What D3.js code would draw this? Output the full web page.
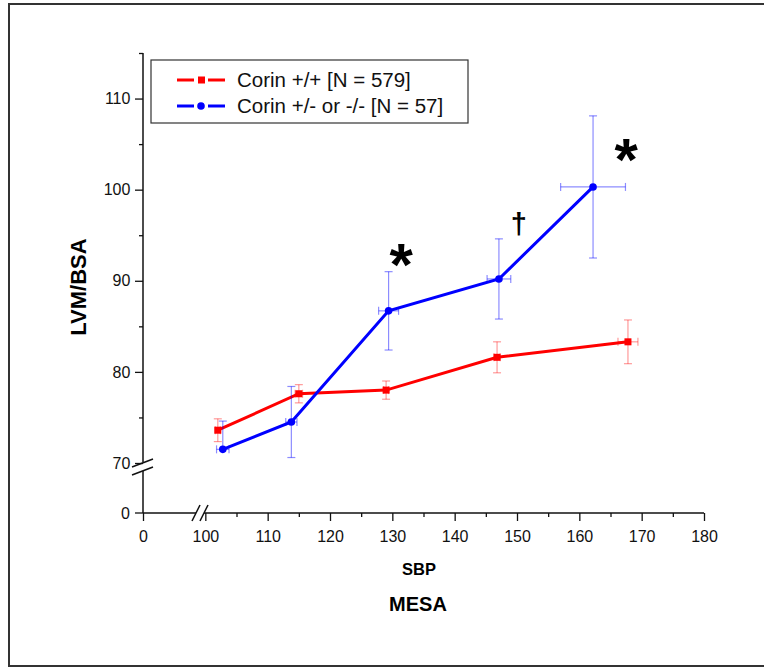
<!DOCTYPE html>
<html>
<head>
<meta charset="utf-8">
<script src="https://cdn.jsdelivr.net/npm/d3@7"></script>
<style>
  body { margin: 0; background: #fff; }
  svg { font-family: "Liberation Sans", Arial, sans-serif; }
</style>
</head>
<body>
<svg width="764" height="669"></svg>
<script>
// data (SBP vs LVM/BSA, MESA)
var sbpRed  = [102.0, 115.0, 129.0, 146.8, 167.8];
var lvmRed  = [73.6, 77.6, 78.0, 81.6, 83.3];
var errRedUp = [1.25, 1.0, 1.0, 1.7, 2.4];
var errRedLo = [1.25, 1.0, 1.0, 1.7, 2.4];
var errRedX = [0.4, 0.6, 0.4, 0.5, 1.6];

var sbpBlue  = [102.8, 113.8, 129.4, 147.1, 162.2];
var lvmBlue  = [71.5, 74.5, 86.7, 90.2, 100.3];
var errBlueUp = [3.1, 3.9, 4.3, 4.4, 7.8];
var errBlueLo = [0, 3.9, 4.3, 4.4, 7.8];
var errBlueX = [1.0, 0.9, 1.6, 1.9, 5.2];

var xTicks = [90, 100, 110, 120, 130, 140, 150, 160, 170, 180];
var xMinor = [105, 115, 125, 135, 145, 155, 165, 175];
var yTicks = [70, 80, 90, 100, 110];
var yMinor = [75, 85, 95, 105, 115];

var seriesNames = ["Corin +/+ [N = 579]", "Corin +/- or -/- [N = 57]"];

var svg = d3.select("svg");

// outer frame
svg.append("rect")
    .attr("x", 9).attr("y", 4)
    .attr("width", 780).attr("height", 662)
    .attr("fill", "none").attr("stroke", "#333").attr("stroke-width", 2);

// scales: x axis is broken between 0 and 100 (0 drawn where 90 would be)
var x = d3.scaleLinear().domain([90, 180]).range([143, 704]);
var y = d3.scaleLinear().domain([70, 115]).range([463, 53]);
var yZero = 513;

// x axis
var xAxis = d3.axisBottom(x)
    .tickValues(xTicks)
    .tickSize(8)
    .tickFormat(function(d) { return d == 90 ? "0" : d; });

var gx = svg.append("g")
    .attr("transform", "translate(0," + yZero + ")")
    .call(xAxis);
gx.select(".domain").remove();
gx.selectAll("text").attr("font-size", 16).attr("font-family", "Liberation Sans, Arial, sans-serif")
    .attr("fill", "#111").attr("dy", "1.1em");
gx.selectAll("line").attr("stroke", "#111").attr("stroke-width", 1.3);

svg.append("g")
    .attr("transform", "translate(0," + yZero + ")")
    .call(d3.axisBottom(x).tickValues(xMinor).tickSize(4).tickFormat(""))
    .call(function(g) { g.select(".domain").remove(); })
    .selectAll("line").attr("stroke", "#111").attr("stroke-width", 1.3);

// x axis line with break
svg.append("line").attr("x1", 143).attr("x2", 196).attr("y1", yZero).attr("y2", yZero)
    .attr("stroke", "#111").attr("stroke-width", 1.5);
svg.append("line").attr("x1", 204).attr("x2", 704).attr("y1", yZero).attr("y2", yZero)
    .attr("stroke", "#111").attr("stroke-width", 1.5);
[192, 200].forEach(function(bx) {
  svg.append("line")
      .attr("x1", bx).attr("y1", yZero + 8)
      .attr("x2", bx + 8).attr("y2", yZero - 8)
      .attr("stroke", "#111").attr("stroke-width", 1.5);
});

// y axis
var gy = svg.append("g")
    .attr("transform", "translate(143,0)")
    .call(d3.axisLeft(y).tickValues(yTicks).tickSize(8));
gy.select(".domain").remove();
gy.selectAll("text").attr("font-size", 16).attr("font-family", "Liberation Sans, Arial, sans-serif")
    .attr("fill", "#111").attr("dx", "-0.1em");
gy.selectAll("line").attr("stroke", "#111").attr("stroke-width", 1.3);

svg.append("g")
    .attr("transform", "translate(143,0)")
    .call(d3.axisLeft(y).tickValues(yMinor).tickSize(4).tickFormat(""))
    .call(function(g) { g.select(".domain").remove(); })
    .selectAll("line").attr("stroke", "#111").attr("stroke-width", 1.3);

// zero tick on y
svg.append("line").attr("x1", 135).attr("x2", 143).attr("y1", yZero).attr("y2", yZero)
    .attr("stroke", "#111").attr("stroke-width", 1.3);
svg.append("text").attr("x", 130).attr("y", yZero).attr("dy", "0.35em")
    .attr("text-anchor", "end").attr("font-size", 16).attr("fill", "#111").text("0");

// y axis line with break
svg.append("line").attr("x1", 143).attr("x2", 143).attr("y1", y(115)).attr("y2", y(70) - 1)
    .attr("stroke", "#111").attr("stroke-width", 1.5);
svg.append("line").attr("x1", 143).attr("x2", 143).attr("y1", y(70) + 8).attr("y2", yZero)
    .attr("stroke", "#111").attr("stroke-width", 1.5);
[0, 8].forEach(function(off) {
  svg.append("line")
      .attr("x1", 132).attr("y1", y(70) + 4 + off)
      .attr("x2", 153).attr("y2", y(70) - 4 + off)
      .attr("stroke", "#111").attr("stroke-width", 1.5);
});

// plot series
svg.append("clipPath").attr("id", "plotclip")
  .append("rect").attr("x", 143).attr("y", y(115)).attr("width", 600).attr("height", y(70) - y(115));

var plot = svg.append("g").attr("clip-path", "url(#plotclip)");

function drawSeries(xs, ys, ex, eUp, eLo, color, errColor, marker) {
  var pts = xs.map(function(v, i) { return { x: v, y: ys[i], ex: ex[i], up: eUp[i], lo: eLo[i] }; });
  var cap = 4;
  var eb = plot.append("g").attr("stroke", errColor).attr("stroke-width", 1.2);
  pts.forEach(function(p) {
    var cx = x(p.x), cy = y(p.y);
    eb.append("line").attr("x1", cx).attr("x2", cx).attr("y1", y(p.y - p.lo)).attr("y2", y(p.y + p.up));
    if (p.lo > 0)
      eb.append("line").attr("x1", cx - cap).attr("x2", cx + cap).attr("y1", y(p.y - p.lo)).attr("y2", y(p.y - p.lo));
    eb.append("line").attr("x1", cx - cap).attr("x2", cx + cap).attr("y1", y(p.y + p.up)).attr("y2", y(p.y + p.up));
    eb.append("line").attr("x1", x(p.x - p.ex)).attr("x2", x(p.x + p.ex)).attr("y1", cy).attr("y2", cy);
    eb.append("line").attr("x1", x(p.x - p.ex)).attr("x2", x(p.x - p.ex)).attr("y1", cy - cap).attr("y2", cy + cap);
    eb.append("line").attr("x1", x(p.x + p.ex)).attr("x2", x(p.x + p.ex)).attr("y1", cy - cap).attr("y2", cy + cap);
  });

  var line = d3.line().x(function(d) { return x(d.x); }).y(function(d) { return y(d.y); });
  plot.append("path").datum(pts)
      .attr("d", line)
      .attr("fill", "none").attr("stroke", color).attr("stroke-width", 3);

  pts.forEach(function(p) {
    if (marker == "square") {
      plot.append("rect").attr("x", x(p.x) - 3.5).attr("y", y(p.y) - 3.5)
          .attr("width", 7).attr("height", 7).attr("fill", color);
    } else {
      plot.append("circle").attr("cx", x(p.x)).attr("cy", y(p.y)).attr("r", 3.8).attr("fill", color);
    }
  });
}

drawSeries(sbpRed, lvmRed, errRedX, errRedUp, errRedLo, "#ff0000", "rgba(255,0,0,0.4)", "square");
drawSeries(sbpBlue, lvmBlue, errBlueX, errBlueUp, errBlueLo, "#0000ff", "rgba(0,0,255,0.45)", "circle");

// significance marks
svg.append("text").attr("x", x(131.4)).attr("y", 285).attr("text-anchor", "middle")
    .attr("font-size", 60).attr("font-weight", "bold").text("*");
svg.append("text").attr("x", x(150.3)).attr("y", 234).attr("text-anchor", "middle")
    .attr("font-size", 29).attr("font-weight", "bold").text("\u2020");
svg.append("text").attr("x", x(167.5)).attr("y", 180).attr("text-anchor", "middle")
    .attr("font-size", 60).attr("font-weight", "bold").text("*");

// legend
var lg = svg.append("g");
lg.append("rect").attr("x", 151).attr("y", 60).attr("width", 317).attr("height", 63)
    .attr("fill", "#fff").attr("stroke", "#333").attr("stroke-width", 1.2);
var legColors = ["#ff0000", "#0000ff"];
seriesNames.forEach(function(name, i) {
  var ly = 80 + i * 26;
  lg.append("line").attr("x1", 177).attr("x2", 194).attr("y1", ly).attr("y2", ly)
      .attr("stroke", legColors[i]).attr("stroke-width", 3);
  lg.append("line").attr("x1", 208).attr("x2", 225).attr("y1", ly).attr("y2", ly)
      .attr("stroke", legColors[i]).attr("stroke-width", 3);
  if (i == 0) {
    lg.append("rect").attr("x", 198).attr("y", ly - 3.5).attr("width", 7).attr("height", 7).attr("fill", legColors[i]);
  } else {
    lg.append("circle").attr("cx", 201).attr("cy", ly).attr("r", 3.8).attr("fill", legColors[i]);
  }
  lg.append("text").attr("x", 237).attr("y", ly).attr("dy", "0.36em")
      .attr("font-size", 20.5).attr("fill", "#111").text(name);
});

// axis titles
svg.append("text")
    .attr("transform", "translate(86,287) rotate(-90)")
    .attr("text-anchor", "middle").attr("font-size", 22).attr("font-weight", "bold")
    .text("LVM/BSA");
svg.append("text").attr("x", 419).attr("y", 575).attr("text-anchor", "middle")
    .attr("font-size", 16.5).attr("font-weight", "bold").text("SBP");
svg.append("text").attr("x", 418).attr("y", 611).attr("text-anchor", "middle")
    .attr("font-size", 20).attr("font-weight", "bold").text("MESA");
</script>
</body>
</html>
